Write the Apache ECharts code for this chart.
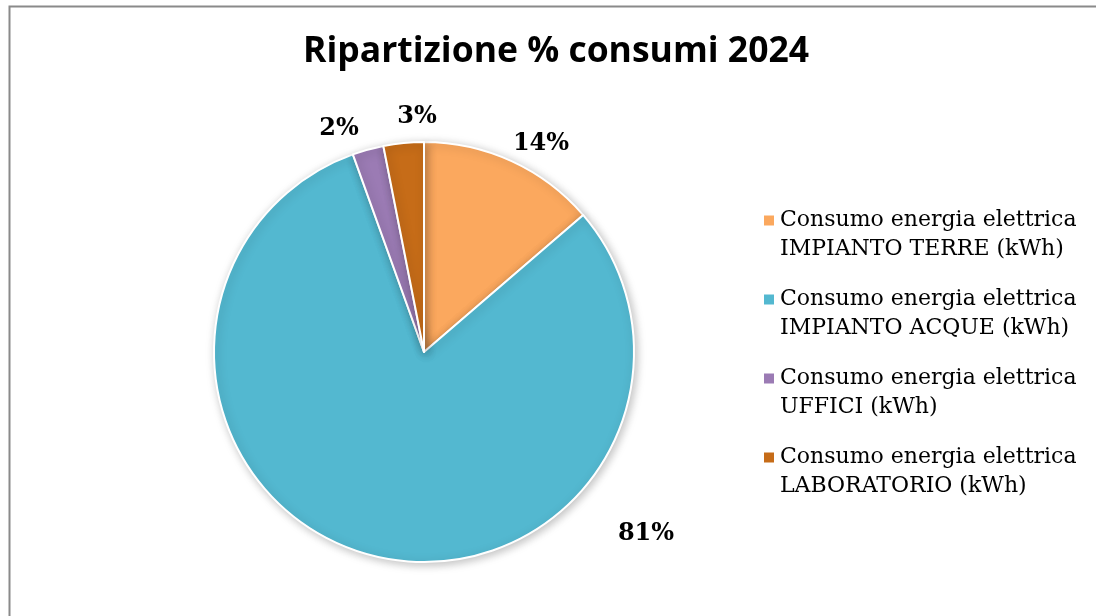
<!DOCTYPE html>
<html>
<head>
<meta charset="utf-8">
<script src="https://cdn.jsdelivr.net/npm/echarts@6/dist/echarts.min.js"></script>
<style>
  html, body { margin: 0; padding: 0; background: #fff; }
  #chart { width: 1096px; height: 616px; }
</style>
</head>
<body>
<div id="chart"></div>
<script>
// categories and values (share of consumption, %)
const categories = [
  'Consumo energia elettrica\nIMPIANTO TERRE (kWh)',
  'Consumo energia elettrica\nIMPIANTO ACQUE (kWh)',
  'Consumo energia elettrica\nUFFICI (kWh)',
  'Consumo energia elettrica\nLABORATORIO (kWh)'
]
const values = [13.7, 80.8, 2.4, 3.1]
const colors = ['#FBA85E', '#53B8D0', '#9B7BB4', '#C66C18']

// where Excel put the percentage labels
const labelPos = [[541, 144], [646, 534], [339, 129], [417, 117]]

const chart = echarts.init(document.getElementById('chart'))

chart.setOption({
  color: colors,
  title: {
    text: 'Ripartizione % consumi 2024',
    left: 551,
    top: 29,
    textAlign: 'center',
    textStyle: {
      fontFamily: 'Open Sans',
      fontWeight: 'bold',
      fontSize: 35.5,
      color: '#000'
    }
  },
  legend: {
    orient: 'vertical',
    left: 762,
    top: 177,
    padding: 0,
    itemWidth: 12,
    itemHeight: 12,
    itemGap: -8,
    icon: 'rect',
    selectedMode: false,
    // blank first line so the square sits next to the first text line
    formatter: name => ' \n' + name,
    textStyle: {
      fontFamily: 'DejaVu Serif',
      fontSize: 22,
      lineHeight: 29,
      color: '#000'
    }
  },
  graphic: [{
    type: 'rect',
    left: 7,
    top: 4,
    silent: true,
    shape: { width: 1200, height: 700 },
    style: { fill: 'none', stroke: '#8a8a8a', lineWidth: 2 }
  }],
  series: [{
    type: 'pie',
    center: [424, 352],
    radius: 210,
    startAngle: 90,
    clockwise: true,
    animation: false,
    itemStyle: {
      borderColor: '#fff',
      borderWidth: 2,
      shadowBlur: 10,
      shadowColor: 'rgba(0,0,0,0.25)',
      shadowOffsetX: 2,
      shadowOffsetY: 2
    },
    label: {
      show: true,
      position: 'outside',
      fontFamily: 'DejaVu Serif',
      fontWeight: 'bold',
      fontSize: 24,
      color: '#000',
      formatter: p => Math.round(p.value) + '%'
    },
    labelLine: { show: false },
    labelLayout: p => ({
      x: labelPos[p.dataIndex][0],
      y: labelPos[p.dataIndex][1],
      align: 'center',
      verticalAlign: 'middle'
    }),
    emphasis: { disabled: true },
    data: categories.map((c, i) => ({ name: c, value: values[i] }))
  }]
})
</script>
</body>
</html>
